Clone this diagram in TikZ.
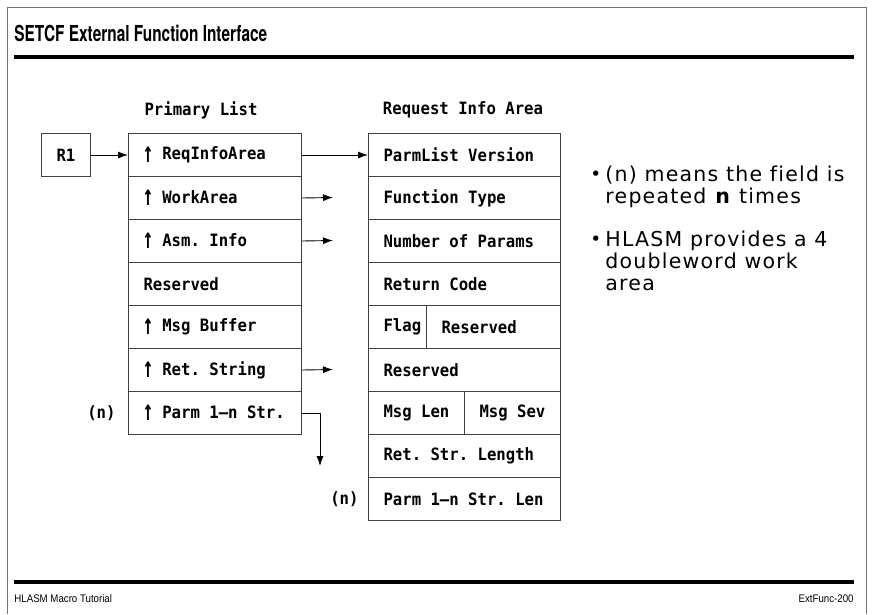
\documentclass[tikz,border=0pt]{standalone}
\usepackage{fontspec}
\usepackage{graphicx}
\setmainfont{Liberation Sans}
\newfontfamily\titlefont[FakeStretch=0.7]{TeX Gyre Heros}
\newfontfamily\footfont[FakeStretch=0.88]{Liberation Sans}
\newfontfamily\notefont[LetterSpace=6, Ligatures=NoCommon]{DejaVu Sans}
\newfontfamily\cellfont[FakeStretch=0.92]{DejaVu Sans Mono}
\newcommand{\uparr}{\makebox[0.55em][c]{\raisebox{-0.15em}{\scalebox{1.1}[1.7]{↑}}}}
\newcommand{\notebullet}{\makebox[15pt][l]{\raisebox{0.05em}{\scalebox{0.9}{\textbullet}}}}
\newcommand{\monospaces}{\spaceskip=\fontcharwd\font`\x\relax\xspaceskip=\spaceskip}
\usetikzlibrary{positioning}
\usetikzlibrary{arrows.meta}
\tikzset{my_arrows/.style={->,>={Latex[length=10pt,width=7pt]},line width=0.9pt}}
\tikzset{my_frame/.style={draw=black!55, line width=0.8pt}}
\tikzset{my_rule/.style={line width=4pt}}
\tikzset{my_title/.style={font=\titlefont\bfseries\fontsize{22}{25}\selectfont, inner sep=0pt}}
\tikzset{my_foot/.style={font=\footfont\fontsize{11}{13}\selectfont, inner sep=0pt}}
\tikzset{my_head/.style={font=\cellfont\bfseries\fontsize{17}{19}\selectfont, inner sep=0pt}}
\tikzset{my_cell/.style={draw=black!75, line width=1pt, anchor=north west,
    minimum height=43pt, inner xsep=15pt, inner ysep=0pt, text width=#1, align=left,
    font=\cellfont\bfseries\fontsize{17}{19}\selectfont, execute at begin node=\monospaces}}
\tikzset{my_reg/.style={draw=black!75, line width=1pt, anchor=north west,
    minimum width=49pt, minimum height=43pt, inner sep=0pt,
    font=\cellfont\bfseries\fontsize{17}{19}\selectfont}}
\tikzset{my_note/.style={font=\notefont\fontsize{20.5}{22}\selectfont, inner sep=0pt, anchor=north west}}

\begin{document}
\begin{tikzpicture}[x=1pt, y=-1pt, my_arrows]
    \useasboundingbox (0,0) rectangle (872,614);
    % page frame, title and rules
    \draw[my_frame, -] (7,614) -- (7,7) -- (866,7) -- (866,614);
    \node[my_title, anchor=west] (title) at (14,33) {SETCF External Function Interface};
    \draw[my_rule, -] (14,57) -- (854,57);
    \draw[my_rule, -] (14,582) -- (854,582);
    \node[my_foot, anchor=west] (foot_l) at (14,599) {HLASM Macro Tutorial};
    \node[my_foot, anchor=east] (foot_r) at (854,599) {ExtFunc-200};

    % primary list
    \node[my_head] (p_head) at (201,110) {Primary List};
    \node[my_reg] (r1) at (41,133) {R1};
    \foreach \i/\txt in {1/{\uparr{} ReqInfoArea}, 2/{\uparr{} WorkArea}, 3/{\uparr{} Asm. Info},
        4/{Reserved}, 5/{\uparr{} Msg Buffer}, 6/{\uparr{} Ret. String}, 7/{\uparr{} Parm 1–n Str.}}
        \node[my_cell=143pt] (p\i) at (128,{133+43*(\i-1)}) {\txt};
    \node[my_head, anchor=east] (p_n) at ([xshift=-12pt]p7.west) {(n)};

    % request info area
    \node[my_head] (q_head) at (463,110) {Request Info Area};
    \node[my_cell=162pt] (q1) at (368,133) {ParmList Version};
    \node[my_cell=162pt] (q2) at (368,176) {Function Type};
    \node[my_cell=162pt] (q3) at (368,219) {Number of Params};
    \node[my_cell=162pt] (q4) at (368,262) {Return Code};
    \node[my_cell=28pt] (q5a) at (368,305) {Flag};
    \node[my_cell=104pt] (q5b) at (426,305) {Reserved};
    \node[my_cell=162pt] (q6) at (368,348) {Reserved};
    \node[my_cell=66pt] (q7a) at (368,391) {Msg Len};
    \node[my_cell=66pt] (q7b) at (464,391) {Msg Sev};
    \node[my_cell=162pt] (q8) at (368,434) {Ret. Str. Length};
    \node[my_cell=162pt] (q9) at (368,477) {Parm 1–n Str. Len};
    \node[my_head, anchor=east] (q_n) at ([xshift=-9pt]q9.west) {(n)};

    % pointers
    \coordinate (work_end) at (333,197.5);
    \coordinate (asm_end) at (333,240.5);
    \coordinate (ret_end) at (333,369.5);
    \coordinate (parm_end) at (320,466);
    \draw (r1) -- (p1);
    \draw (p1) -- (q1);
    \draw (p2.east) -- (work_end);
    \draw (p3.east) -- (asm_end);
    \draw (p6.east) -- (ret_end);
    \draw (p7.east) -| (parm_end);

    % notes
    \node[my_note] (note_a) at (590,165) {\begin{tabular}{@{}l@{}l@{}}
        \notebullet & (n) means the field is\\ & repeated \textbf{n} times\end{tabular}};
    \node[my_note] (note_b) at (590,230) {\begin{tabular}{@{}l@{}l@{}}
        \notebullet & HLASM provides a 4\\ & doubleword work\\ & area\end{tabular}};
\end{tikzpicture}
\end{document}
